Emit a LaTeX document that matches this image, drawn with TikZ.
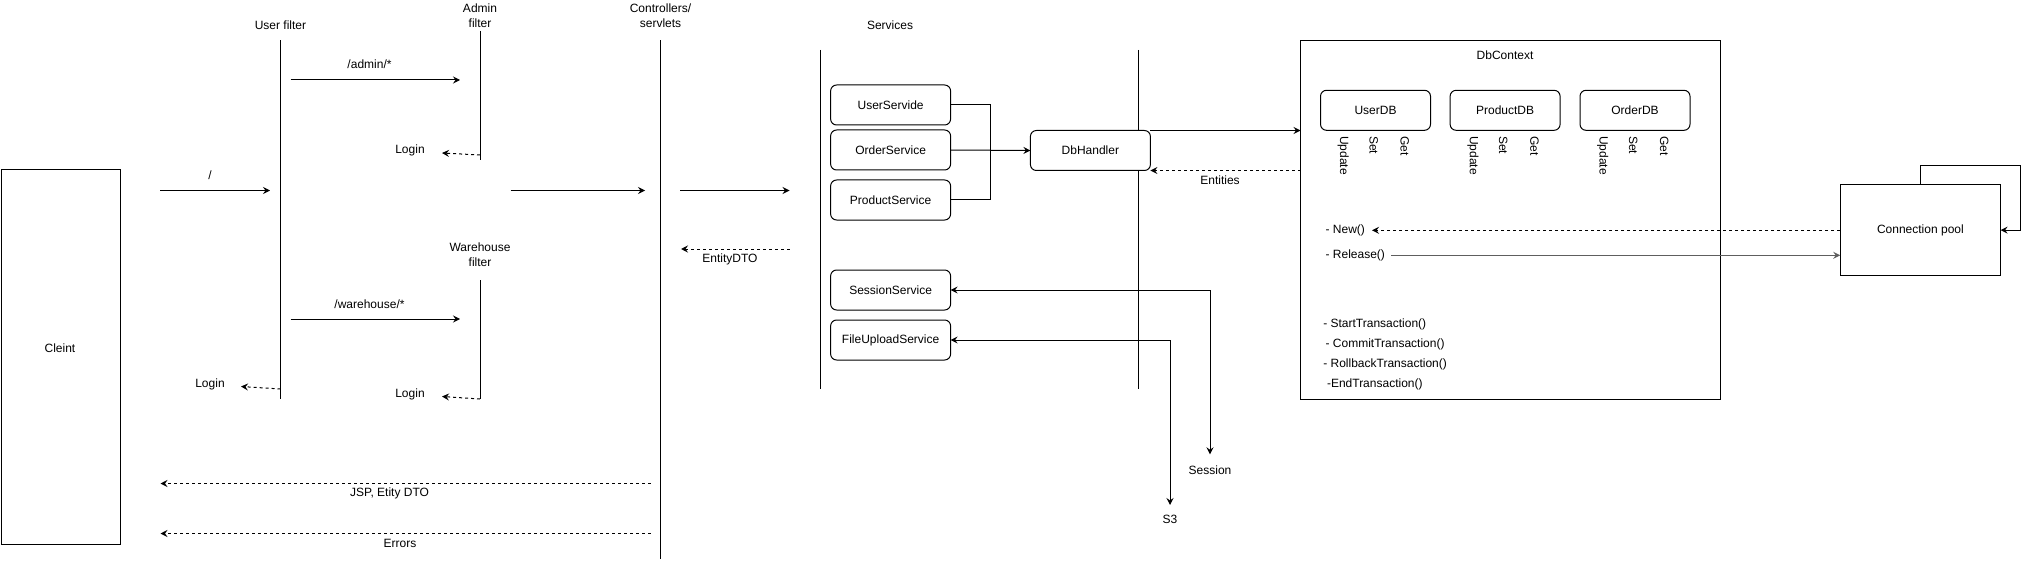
\documentclass[tikz,border=0pt]{standalone}
\usepackage{fontspec}
\setmainfont{Liberation Sans}
\usetikzlibrary{arrows.meta,calc}
\definecolor{relgray}{HTML}{5E5E5E}
\begin{document}
\begin{tikzpicture}[x=1pt,y=-1pt,
  every node/.style={font=\fontsize{12}{14.5}\selectfont, inner sep=0pt, outer sep=0pt},
  ln/.style={line width=1pt},
  arr/.style={ln,-{Stealth[length=7pt,width=7pt,inset=2.5pt]}},
  barr/.style={ln,{Stealth[length=7pt,width=7pt,inset=2.5pt]}-{Stealth[length=7pt,width=7pt,inset=2.5pt]}},
  darr/.style={arr,dash pattern=on 3pt off 3pt},
  lbl/.style={align=center},
  box/.style={draw,line width=1pt,rounded corners=6pt,minimum width=120pt,minimum height=40pt,fill=white},
  dbbox/.style={box,minimum width=110pt},
  vlab/.style={rotate=-90,anchor=west},
  plain/.style={draw,line width=1pt,fill=white}
]
\useasboundingbox (0,0) rectangle (2031,564);

% ---------------- Client
\node[plain,minimum width=119pt,minimum height=374pt] (client) at (60.5,357) {};
\node (clientlbl) at (60,348.5) {Cleint};

% ---------------- Titles
\node[lbl] (ufT) at (280.5,25) {User filter};
\node[lbl] (afT) at (480,15.5) {Admin\\filter};
\node[lbl] (whT) at (480,254.5) {Warehouse\\filter};
\node[lbl] (ctT) at (660.5,15.5) {Controllers/\\servlets};
\node[lbl] (svT) at (890,25) {Services};

% ---------------- Lifelines
\coordinate (uf1) at (280.5,40.5);  \coordinate (uf2) at (280.5,399);
\coordinate (af1) at (480,31);      \coordinate (af2) at (480,160);
\coordinate (wf1) at (480,280);     \coordinate (wf2) at (480,399);
\coordinate (ct1) at (660.5,40.5);  \coordinate (ct2) at (660.5,559);
\coordinate (sv1) at (820.5,50);    \coordinate (sv2) at (820.5,389);
\coordinate (db1) at (1138.5,50);   \coordinate (db2) at (1138.5,389);
\draw[ln] (uf1) -- (uf2);
\draw[ln] (af1) -- (af2);
\draw[ln] (wf1) -- (wf2);
\draw[ln] (ct1) -- (ct2);
\draw[ln] (sv1) -- (sv2);
\draw[ln] (db1) -- (db2);

% ---------------- Client -> filters
\coordinate (r1a) at (160,190.5); \coordinate (r1b) at (270,190.5);
\draw[arr] (r1a) -- (r1b);
\node (slash) at (210,175) {/};

\coordinate (ad1) at (290.5,80); \coordinate (ad2) at (460,80);
\draw[arr] (ad1) -- (ad2);
\node (adL) at (369.5,64.5) {/admin/*};

\coordinate (wh1) at (290.5,319); \coordinate (wh2) at (460,319);
\draw[arr] (wh1) -- (wh2);
\node (whL) at (369.5,304) {/warehouse/*};

% Login returns
\node (loginA) at (410,150) {Login};
\coordinate (la1) at (480,155); \coordinate (la2) at (442,153);
\draw[darr] (la1) -- (la2);

\node (loginW) at (410,394) {Login};
\coordinate (lw1) at (480,399); \coordinate (lw2) at (442,396.5);
\draw[darr] (lw1) -- (lw2);

\node (loginU) at (210,384) {Login};
\coordinate (lu1) at (280.5,389); \coordinate (lu2) at (241,386.5);
\draw[darr] (lu1) -- (lu2);

% filters -> controllers
\coordinate (m1) at (510.5,190.5); \coordinate (m2) at (645,190.5);
\draw[arr] (m1) -- (m2);

% responses to client
\coordinate (j1) at (650.5,483.5); \coordinate (j2) at (160.5,483.5);
\draw[darr] (j1) -- (j2);
\node (jspL) at (389.5,493.5) {JSP, Etity DTO};
\coordinate (e1) at (650.5,533.5); \coordinate (e2) at (160.5,533.5);
\draw[darr] (e1) -- (e2);
\node (errL) at (400,543.5) {Errors};

% controllers <-> services
\coordinate (c1) at (680,190.5); \coordinate (c2) at (789.5,190.5);
\draw[arr] (c1) -- (c2);
\coordinate (d1) at (789.5,249); \coordinate (d2) at (681,249);
\draw[darr] (d1) -- (d2);
\node (dtoL) at (730,259.5) {EntityDTO};

% ---------------- Services
\node[box] (us) at (890.6,105) {UserServide};
\node[box] (os) at (890.6,150) {OrderService};
\node[box] (ps) at (890.6,200) {ProductService};
\node[box] (ss) at (890.6,290) {SessionService};
\node[box] (fu) at (890.6,340) {FileUploadService};

\node[box] (dbh) at (1090.4,150.5) {DbHandler};

\coordinate (jn) at (990.4,150);
\draw[ln] (us.east) -| (jn);
\draw[ln] (ps.east) -| (jn);
\draw[arr] (os.east) -- (dbh.west);

% ---------------- DbContext
\node[plain,minimum width=419.5pt,minimum height=358.5pt] (dbc) at (1510.25,219.75) {};
\node (dbcT) at (1505,55) {DbContext};

\draw[arr] (dbh.north east) -- (dbh.north east -| dbc.west);
\draw[darr] (dbh.south east -| dbc.west) -- (dbh.south east);
\node (entL) at (1220,180.5) {Entities};

\node[dbbox] (udb) at (1375.5,110.3) {UserDB};
\node[dbbox] (pdb) at (1505.1,110.3) {ProductDB};
\node[dbbox] (odb) at (1635,110.3) {OrderDB};

\foreach \b in {udb,pdb,odb}{
  \node[vlab] (\b U) at ($(\b.south west)+(22.8,6)$) {Update};
  \node[vlab] (\b S) at ($(\b.south west)+(53.2,6)$) {Set};
  \node[vlab] (\b G) at ($(\b.south west)+(84.3,6)$) {Get};
}

\node[anchor=west] (new) at (1325.6,230.3) {- New()};
\node[anchor=west] (rel) at (1325.6,255.3) {- Release()};

\node[anchor=west] (t1) at (1323.3,324) {- StartTransaction()};
\node[anchor=west] (t2) at (1325.6,344) {- CommitTransaction()};
\node[anchor=west] (t3) at (1323.3,364) {- RollbackTransaction()};
\node[anchor=west] (t4) at (1327,384) {-EndTransaction()};

% ---------------- Connection pool
\node[plain,minimum width=160.4pt,minimum height=90.3pt] (cp) at (1920.4,230.1) {Connection pool};
\coordinate (lp) at (2020.3,165.3);
\draw[arr] (cp.north) |- (lp) |- (cp.east);

\coordinate (newend) at (1372,230.3);
\draw[darr] (cp.west |- newend) -- (newend);
\coordinate (relstart) at (1391,255.3);
\draw[arr,relgray,line width=1.6pt] (relstart) -- (cp.west |- relstart);

% ---------------- Session / S3
\coordinate (sessend) at (1210,454.3);
\coordinate (s3end) at (1170,505);
\draw[barr] (ss.east) -| (sessend);
\draw[barr] (fu.east) -| (s3end);
\node (sessL) at (1210,470) {Session};
\node (s3L) at (1170,519.5) {S3};

\end{tikzpicture}
\end{document}
